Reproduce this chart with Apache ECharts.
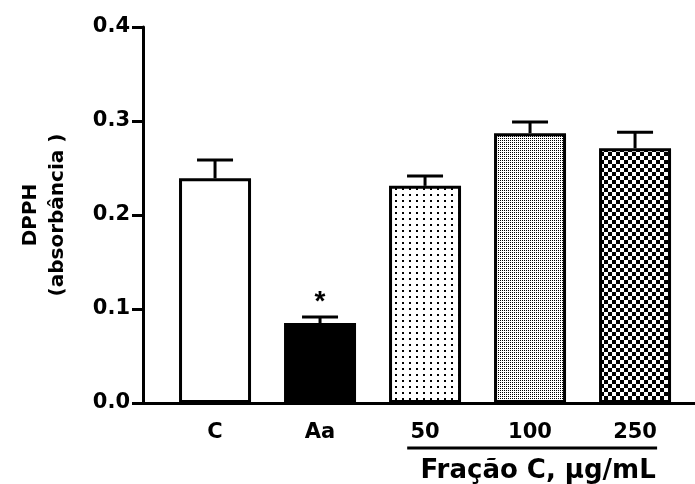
<!DOCTYPE html>
<html>
<head>
<meta charset="utf-8">
<script src="https://cdn.jsdelivr.net/npm/echarts@6/dist/echarts.min.js"></script>
<style>html,body{margin:0;padding:0;background:#fff;}#c{width:695px;height:484px;}</style>
</head>
<body>
<div id="c"></div>
<script>
const categories = ['C', 'Aa', '50', '100', '250'];
const means = [0.239, 0.085, 0.231, 0.287, 0.271];
const errTops = [0.2585, 0.0915, 0.2415, 0.299, 0.288];
const significance = ['', '*', '', '', ''];
const yTicks = [0, 0.1, 0.2, 0.3, 0.4];
const groupLabel = 'Fração C, μg/mL';
const yName = 'DPPH\n(absorbância )';

const FONT = 'DejaVu Sans, Liberation Sans, Arial, sans-serif';

function makePattern(kind) {
  const cv = document.createElement('canvas');
  const ctx = cv.getContext('2d');
  if (kind === 'sparse') {
    cv.width = 7; cv.height = 6;
    ctx.fillStyle = '#fff'; ctx.fillRect(0, 0, 7, 6);
    ctx.fillStyle = '#000'; ctx.fillRect(3, 2, 2, 2);
  } else if (kind === 'dense') {
    cv.width = 2; cv.height = 2;
    ctx.fillStyle = '#fff'; ctx.fillRect(0, 0, 2, 2);
    ctx.fillStyle = '#000'; ctx.fillRect(0, 0, 1, 1);
  } else {
    cv.width = 8; cv.height = 8;
    ctx.fillStyle = '#fff'; ctx.fillRect(0, 0, 8, 8);
    ctx.fillStyle = '#000'; ctx.fillRect(0, 0, 4, 4); ctx.fillRect(4, 4, 4, 4);
  }
  return { image: cv, repeat: 'repeat' };
}

const fills = ['#ffffff', '#000000', makePattern('sparse'), makePattern('dense'), makePattern('check')];

const chart = echarts.init(document.getElementById('c'), null, { renderer: 'canvas' });

const barData = means.map((v, i) => ({ value: [i, v], itemStyle: { color: fills[i] } }));
const errData = means.map((v, i) => [i, v, errTops[i]]);

chart.setOption({
  animation: false,
  backgroundColor: '#fff',
  grid: { left: 143, right: 0, top: 27, bottom: 81, containLabel: false },
  xAxis: {
    type: 'value',
    min: -0.686,
    max: 4.571,
    axisLine: { show: true, onZero: false, lineStyle: { color: '#000', width: 3 } },
    axisTick: { show: false },
    splitLine: { show: false },
    axisLabel: {
      customValues: [0, 1, 2, 3, 4],
      formatter: v => categories[Math.round(v)] || '',
      color: '#000', fontFamily: FONT, fontWeight: 'bold', fontSize: 21, margin: 19
    }
  },
  yAxis: {
    type: 'value',
    min: 0, max: 0.4, interval: 0.1,
    name: yName,
    nameLocation: 'middle',
    nameGap: 72,
    nameRotate: 90,
    nameTextStyle: { color: '#000', fontFamily: FONT, fontWeight: 'bold', fontSize: 20, lineHeight: 27, align: 'center' },
    axisLine: { show: true, onZero: false, lineStyle: { color: '#000', width: 3 } },
    axisTick: { show: true, inside: false, length: 11, lineStyle: { color: '#000', width: 3 } },
    splitLine: { show: false },
    axisLabel: {
      color: '#000', fontFamily: FONT, fontWeight: 'bold', fontSize: 21, margin: 13,
      formatter: v => v.toFixed(1)
    }
  },
  series: [
    {
      type: 'bar',
      data: barData,
      barWidth: 72,
      itemStyle: { borderColor: '#000', borderWidth: 3 },
      z: 2
    },
    {
      type: 'custom',
      data: errData,
      z: 3,
      renderItem: function (params, api) {
        const x = api.value(0);
        const base = api.coord([x, api.value(1)]);
        const top = api.coord([x, api.value(2)]);
        const children = [
          { type: 'line', shape: { x1: base[0], y1: base[1], x2: top[0], y2: top[1] }, style: { stroke: '#000', lineWidth: 3 } },
          { type: 'line', shape: { x1: top[0] - 18, y1: top[1], x2: top[0] + 18, y2: top[1] }, style: { stroke: '#000', lineWidth: 3 } }
        ];
        const s = significance[params.dataIndex];
        if (s) {
          children.push({ type: 'text', style: { text: s, x: top[0], y: top[1] - 1, align: 'center', verticalAlign: 'bottom', fill: '#000', font: 'bold 28px Liberation Sans, Arial, sans-serif' } });
        }
        return { type: 'group', children: children };
      }
    }
  ]
});

const pL = chart.convertToPixel({ gridIndex: 0 }, [2 - 0.17, 0]);
const pR = chart.convertToPixel({ gridIndex: 0 }, [4 + 0.21, 0]);
chart.setOption({
  graphic: [
    { type: 'line', shape: { x1: pL[0], y1: 448, x2: pR[0], y2: 448 }, style: { stroke: '#000', lineWidth: 3 } },
    { type: 'text', style: { text: groupLabel, x: (pL[0] + pR[0]) / 2 + 6, y: 471, align: 'center', verticalAlign: 'middle', fill: '#000', font: 'bold 26px ' + FONT } }
  ]
});
</script>
</body>
</html>
